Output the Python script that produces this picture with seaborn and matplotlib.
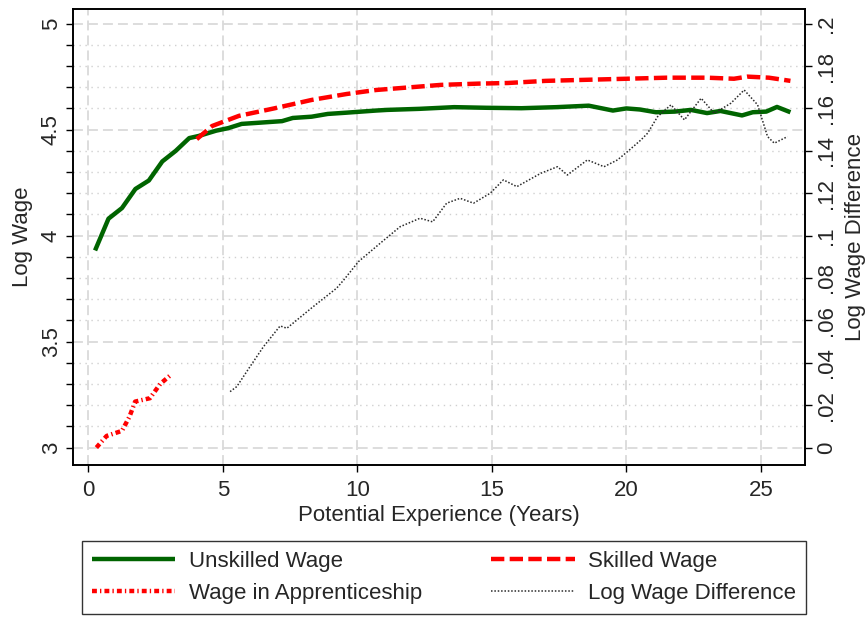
import numpy as np
import pandas as pd
import matplotlib
matplotlib.use("Agg")
import matplotlib.pyplot as plt
import seaborn as sns

# --- data ---
unskilled_x = [0.25, 0.75, 1.25, 1.75, 2.25, 2.75, 3.25, 3.75, 4.1, 4.75, 5.2, 5.7, 6.4, 7.2,
               7.6, 8.3, 8.9, 9.6, 10.7, 11.1, 12.3, 13.6, 14.8, 16.1, 17.4, 18.6, 19.5, 20.0,
               20.5, 21.1, 21.8, 22.4, 23.0, 23.5, 24.3, 24.7, 25.2, 25.6, 26.1]
unskilled_y = [3.93, 4.08, 4.13, 4.22, 4.26, 4.35, 4.40, 4.46, 4.47, 4.495, 4.507, 4.527, 4.533, 4.54,
               4.555, 4.561, 4.574, 4.58, 4.59, 4.593, 4.598, 4.606, 4.603, 4.601, 4.606, 4.613, 4.59, 4.60,
               4.595, 4.582, 4.585, 4.593, 4.578, 4.588, 4.567, 4.582, 4.585, 4.607, 4.582]

skilled_x = [4.03, 4.6, 5.6, 6.9, 8.3, 9.6, 10.7, 12.0, 13.1, 14.5, 15.6, 17.0, 18.5, 20.0,
             21.5, 23.0, 24.0, 24.5, 25.3, 26.1]
skilled_y = [4.455, 4.517, 4.565, 4.60, 4.64, 4.668, 4.687, 4.70, 4.711, 4.717, 4.72, 4.73, 4.735, 4.74,
             4.745, 4.745, 4.74, 4.75, 4.745, 4.73]

appr_x = [0.3, 0.68, 1.25, 1.53, 1.74, 2.29, 2.67, 3.02]
appr_y = [3.0, 3.055, 3.079, 3.146, 3.217, 3.233, 3.30, 3.338]

diff_x = [5.27, 5.52, 6.0, 6.51, 7.13, 7.38, 8.36, 9.23, 9.49, 10.04, 10.85, 11.59, 12.33, 12.8,
          13.32, 13.82, 14.32, 14.94, 15.43, 15.93, 16.82, 17.44, 17.81, 18.55, 19.17, 19.67, 20.04,
          20.54, 20.79, 21.16, 21.66, 22.16, 22.78, 23.27, 23.89, 24.38, 24.88, 25.25, 25.5, 25.99]
diff_y = [0.0264, 0.0288, 0.038, 0.0476, 0.0574, 0.0563, 0.0665, 0.0752, 0.079, 0.0877, 0.0964, 0.1042,
          0.1082, 0.1065, 0.1153, 0.1176, 0.1153, 0.120, 0.1263, 0.1231, 0.1294, 0.1325, 0.1286,
          0.1357, 0.1325, 0.1357, 0.1396, 0.1451, 0.1483, 0.1561, 0.1617, 0.1546, 0.1648, 0.1577,
          0.1625, 0.1687, 0.1617, 0.1467, 0.1436, 0.1467]

left_ticks = [3, 3.5, 4, 4.5, 5]
left_labels = ["3", "3.5", "4", "4.5", "5"]
right_ticks = [0, .02, .04, .06, .08, .1, .12, .14, .16, .18, .2]
right_labels = ["0", ".02", ".04", ".06", ".08", ".1", ".12", ".14", ".16", ".18", ".2"]
x_ticks = [0, 5, 10, 15, 20, 25]

sns.set_style("white")
plt.rcParams["font.family"] = ["Liberation Sans", "DejaVu Sans"]
plt.rcParams["font.size"] = 16

fig = plt.figure(figsize=(8.66, 6.17), dpi=100)
ax = fig.add_axes([0.0843, 0.2464, 0.9292 - 0.0843, 0.9854 - 0.2464])
ax2 = ax.twinx()

green = "#006400"
red = "#ff0000"

sns.lineplot(x=unskilled_x, y=unskilled_y, ax=ax, color=green, lw=3.2,
             label="Unskilled Wage", solid_capstyle="butt")
sns.lineplot(x=skilled_x, y=skilled_y, ax=ax, color=red, lw=3.2,
             linestyle=(0, (3, 1.2)), label="Skilled Wage")
sns.lineplot(x=appr_x, y=appr_y, ax=ax, color=red, lw=3.2,
             linestyle=(0, (1.1, 0.7, 0.3, 0.7)), label="Wage in Apprenticeship")
sns.lineplot(x=diff_x, y=diff_y, ax=ax2, color="#2a2a2a", lw=1.1,
             linestyle=(0, (1, 1.2)), label="Log Wage Difference")

ymin, ymax = 2.918, 5.069
ax.set_ylim(ymin, ymax)
ax2.set_ylim((ymin - 3) / 10, (ymax - 3) / 10)
ax.set_xlim(-0.57, 26.63)

ax.set_yticks(left_ticks)
ax.set_yticklabels(left_labels, rotation=90, va="center")
ax.set_yticks(np.round(np.arange(3, 5.01, 0.1), 2), minor=True)
ax2.set_yticks(right_ticks)
ax2.set_yticklabels(right_labels, rotation=90, va="center")
ax.set_xticks(x_ticks)

for a in (ax, ax2):
    a.tick_params(which="both", direction="out", length=5, width=1, color="black", labelsize=16)
    for s in a.spines.values():
        s.set_color("black")
        s.set_linewidth(1.2)
ax.tick_params(axis="y", which="both", left=True, pad=3)
ax.tick_params(axis="x", bottom=True, pad=6)
ax2.tick_params(axis="y", right=True, pad=3)

# grid: dashed majors, dotted minors
ax.grid(False)
ax2.grid(False)
ax.yaxis.grid(True, which="major", color="#dadada", lw=1.3, linestyle=(0, (5.5, 2.8)))
ax.yaxis.grid(True, which="minor", color="#d0d0d0", lw=1.0, linestyle=(0, (1, 3.3)))
ax.xaxis.grid(True, which="major", color="#dadada", lw=1.3, linestyle=(0, (5.5, 2.8)))
ax.set_axisbelow(True)

ax.set_xlabel("Potential Experience (Years)", fontsize=16, labelpad=3)
ax.set_ylabel("Log Wage", fontsize=16, labelpad=6)
ax2.set_ylabel("Log Wage Difference", fontsize=16, rotation=90, labelpad=6)

for a in (ax, ax2):
    if a.get_legend() is not None:
        a.get_legend().remove()

h1, l1 = ax.get_legend_handles_labels()
h2, l2 = ax2.get_legend_handles_labels()
handles = dict(zip(l1 + l2, h1 + h2))
order = ["Unskilled Wage", "Wage in Apprenticeship", "Skilled Wage", "Log Wage Difference"]
leg = fig.legend([handles[k] for k in order], order, ncol=2, loc="lower left",
                 bbox_to_anchor=(82 / 866, 3 / 617, (806 - 82) / 866, 74 / 617),
                 mode="expand", fontsize=16, handlelength=3.75, handletextpad=0.6,
                 labelspacing=0.5, borderpad=0.45, frameon=True, fancybox=False,
                 edgecolor="black", borderaxespad=0)
leg.get_frame().set_linewidth(1.0)

fig.savefig("out.png", dpi=100)
